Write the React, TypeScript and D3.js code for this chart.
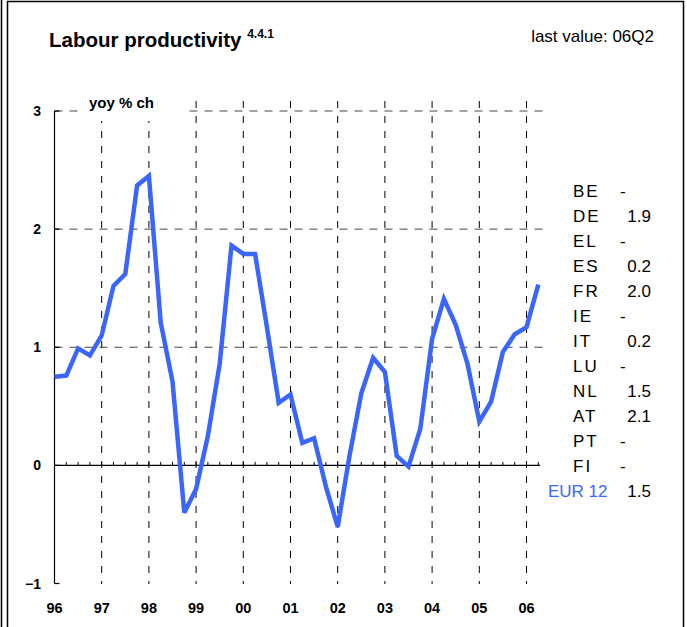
import { useEffect, useRef } from 'react';
import * as d3 from 'd3';

// quarterly yoy % change, 96Q1 .. 06Q2
const startYear = 1996;
const values = [
  0.75, 0.76, 0.99, 0.93,
  1.10, 1.52, 1.62, 2.37,
  2.45, 1.21, 0.71, -0.40,
  -0.20, 0.25, 0.86, 1.86,
  1.79, 1.79, 1.17, 0.53,
  0.60, 0.19, 0.23, -0.18,
  -0.52, 0.08, 0.61, 0.91,
  0.79, 0.08, -0.01, 0.31,
  1.07, 1.41, 1.19, 0.86,
  0.37, 0.54, 0.96, 1.11,
  1.17, 1.53,
];
const yearLabels = ['96', '97', '98', '99', '00', '01', '02', '03', '04', '05', '06'];
const yTicks = [-1, 0, 1, 2, 3];
const countries = ['BE', 'DE', 'EL', 'ES', 'FR', 'IE', 'IT', 'LU', 'NL', 'AT', 'PT', 'FI'];
const countryValues = ['-', '1.9', '-', '0.2', '2.0', '-', '0.2', '-', '1.5', '2.1', '-', '-'];
const euroLabel = 'EUR 12';
const euroValue = '1.5';

const W = 687;
const H = 627;
const FONT = '"Liberation Sans", Arial, sans-serif';
const BLUE = '#3a66ff';

export default function App() {
  const svgRef = useRef<SVGSVGElement>(null);

  useEffect(() => {
    if (!svgRef.current) return;
    const svg = d3.select(svgRef.current);
    svg.selectAll('*').remove();

    const x = d3.scaleLinear().domain([1996, 2006]).range([54.5, 526.5]);
    const y = d3.scaleLinear().domain([-1, 3]).range([583.5, 111]);
    const pts = values.map((v, i) => ({ t: startYear + i / 4, v }));

    // frame
    svg.append('line').attr('x1', 1.5).attr('x2', 1.5).attr('y1', 0).attr('y2', H)
      .attr('stroke', '#000').attr('stroke-width', 1.5);
    svg.append('rect').attr('x', 7.5).attr('y', 1.5).attr('width', 676).attr('height', 660)
      .attr('fill', 'none').attr('stroke', '#000').attr('stroke-width', 1.5);

    // title
    const title = svg.append('text').attr('x', 49).attr('y', 47)
      .attr('font-family', FONT).attr('font-weight', 'bold').attr('font-size', 20.5)
      .attr('fill', '#000');
    title.append('tspan').text('Labour productivity ');
    title.append('tspan').attr('font-size', 12).attr('dy', -9).text('4.4.1');

    svg.append('text').attr('x', 654).attr('y', 41.5).attr('text-anchor', 'end')
      .attr('font-family', FONT).attr('font-size', 17).attr('fill', '#000')
      .text('last value: 06Q2');

    // vertical grid (years)
    const years = d3.range(1997, 2007);
    svg.append('g').selectAll('line').data(years).join('line')
      .attr('x1', d => x(d)).attr('x2', d => x(d))
      .attr('y1', 101).attr('y2', 584)
      .attr('stroke', '#000').attr('stroke-width', 1)
      .attr('stroke-dasharray', '7,8');

    // horizontal grid
    svg.append('g').selectAll('line').data([1, 2, 3]).join('line')
      .attr('x1', x(1996)).attr('x2', 547)
      .attr('y1', d => y(d)).attr('y2', d => y(d))
      .attr('stroke', '#444').attr('stroke-width', 1)
      .attr('stroke-dasharray', '8,7');

    // unit label with white background
    svg.append('rect').attr('x', 80).attr('y', 95).attr('width', 108).attr('height', 26)
      .attr('fill', '#fff');
    svg.append('text').attr('x', 89).attr('y', 108)
      .attr('font-family', FONT).attr('font-weight', 'bold').attr('font-size', 15)
      .attr('fill', '#000').text('yoy % ch');

    // zero line with quarter ticks
    svg.append('line').attr('x1', x(1996)).attr('x2', 540)
      .attr('y1', y(0)).attr('y2', y(0)).attr('stroke', '#000').attr('stroke-width', 1.2);
    svg.append('g').selectAll('line').data(pts.slice(1)).join('line')
      .attr('x1', d => x(d.t)).attr('x2', d => x(d.t))
      .attr('y1', y(0)).attr('y2', y(0) - 3.5)
      .attr('stroke', '#000').attr('stroke-width', 1);

    // y axis
    svg.append('line').attr('x1', x(1996)).attr('x2', x(1996))
      .attr('y1', y(3)).attr('y2', y(-1)).attr('stroke', '#000').attr('stroke-width', 1.2);
    svg.append('g').selectAll('line').data(yTicks).join('line')
      .attr('x1', x(1996)).attr('x2', x(1996) + 5)
      .attr('y1', d => y(d)).attr('y2', d => y(d))
      .attr('stroke', '#000').attr('stroke-width', 1.2);
    svg.append('g').selectAll('text').data(yTicks).join('text')
      .attr('x', 41).attr('y', d => y(d) + 5).attr('text-anchor', 'end')
      .attr('font-family', FONT).attr('font-weight', 'bold').attr('font-size', 14)
      .attr('fill', '#000').text(d => d3.format('d')(d));

    // x labels
    svg.append('g').selectAll('text').data(yearLabels).join('text')
      .attr('x', (d, i) => x(1996 + i)).attr('y', 613).attr('text-anchor', 'middle')
      .attr('font-family', FONT).attr('font-weight', 'bold').attr('font-size', 14.5)
      .attr('fill', '#000').text(d => d);

    // series
    const line = d3.line<{ t: number; v: number }>().x(d => x(d.t)).y(d => y(d.v));
    svg.append('path').datum(pts).attr('d', line)
      .attr('fill', 'none').attr('stroke', BLUE).attr('stroke-width', 4.5)
      .attr('stroke-linejoin', 'miter').attr('stroke-miterlimit', 3);

    // country table
    const rowY = (i: number) => 196.7 + i * 25;
    const tbl = svg.append('g').attr('font-family', FONT).attr('font-size', 17).attr('fill', '#000');
    tbl.selectAll('text.code').data(countries).join('text').attr('class', 'code')
      .attr('x', 573).attr('y', (d, i) => rowY(i)).attr('letter-spacing', 2)
      .text(d => d);
    tbl.selectAll('text.val').data(countryValues).join('text').attr('class', 'val')
      .attr('x', d => (d === '-' ? 620 : 651)).attr('y', (d, i) => rowY(i))
      .attr('text-anchor', d => (d === '-' ? 'start' : 'end'))
      .text(d => d);
    tbl.append('text').attr('x', 548).attr('y', rowY(countries.length))
      .attr('fill', BLUE).text(euroLabel);
    tbl.append('text').attr('x', 651).attr('y', rowY(countries.length))
      .attr('text-anchor', 'end').text(euroValue);
  }, []);

  return (
    <svg ref={svgRef} width={W} height={H}
      style={{ position: 'absolute', left: 0, top: 0, background: '#fff' }} />
  );
}
